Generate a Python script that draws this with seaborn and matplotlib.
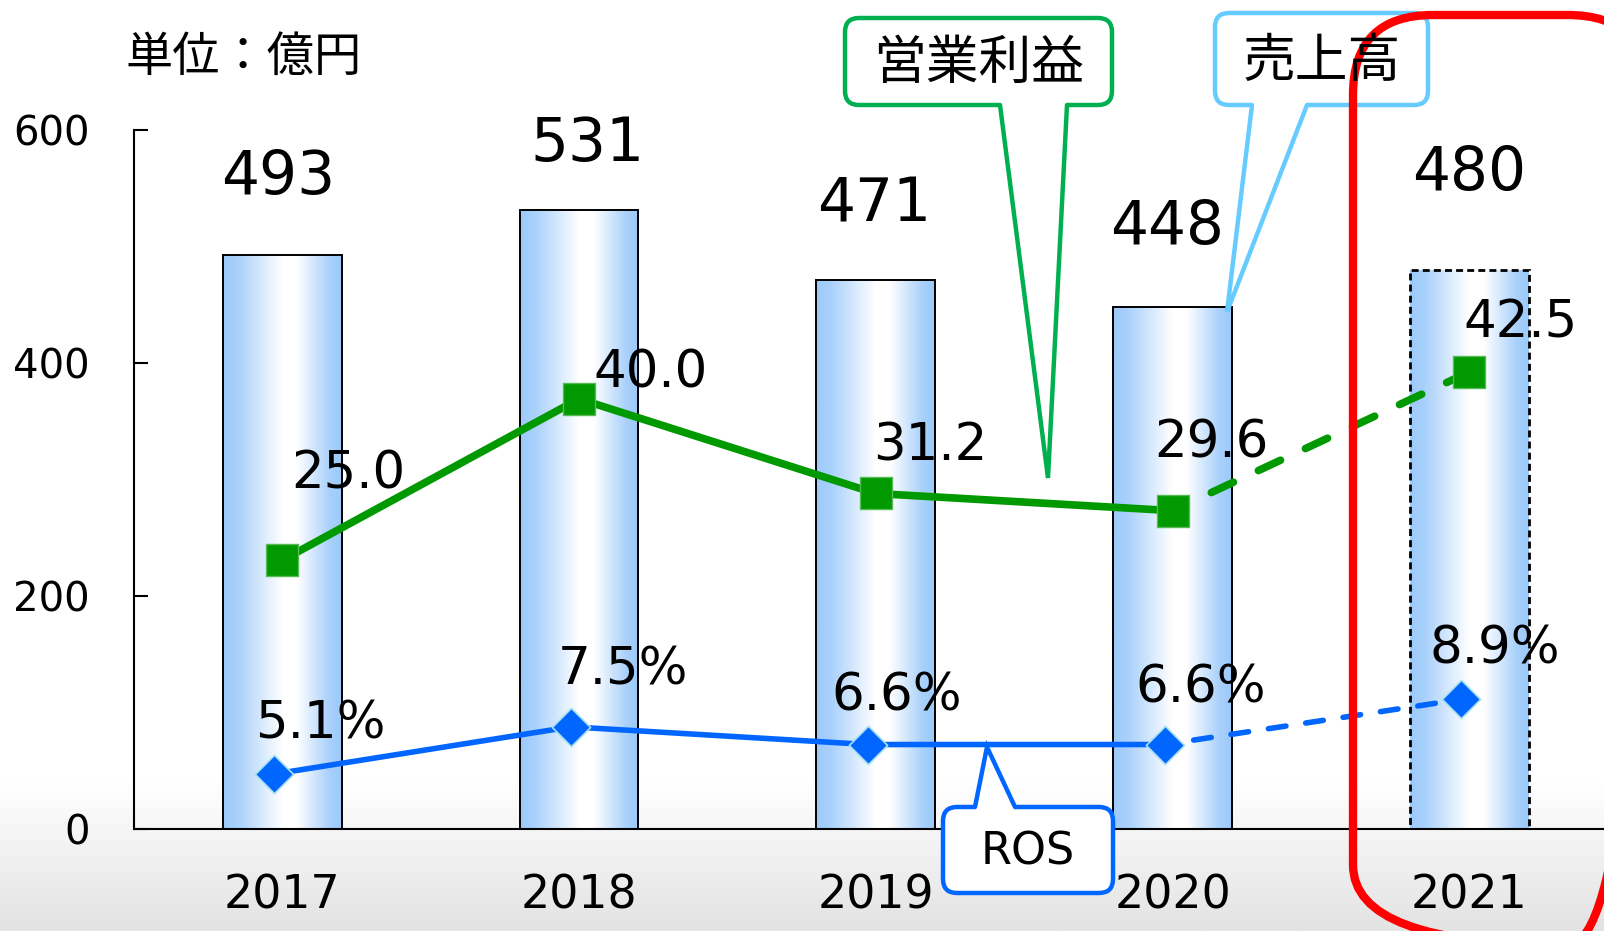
import numpy as np
import pandas as pd
import matplotlib
matplotlib.use('Agg')
import matplotlib.pyplot as plt
import matplotlib.transforms as mtransforms
from matplotlib.patches import FancyBboxPatch, Polygon
from matplotlib.colors import LinearSegmentedColormap
import seaborn as sns

# data
years = ['2017', '2018', '2019', '2020', '2021']
sales = [493, 531, 471, 448, 480]          # 売上高 (億円)
profit = [25.0, 40.0, 31.2, 29.6, 42.5]    # 営業利益 (億円)
ros = [5.1, 7.5, 6.6, 6.6, 8.9]            # ROS (%)
sales_labels = ['493', '531', '471', '448', '480']
profit_labels = ['25.0', '40.0', '31.2', '29.6', '42.5']
ros_labels = ['5.1%', '7.5%', '6.6%', '6.6%', '8.9%']

# label offsets in pixels (dx, dy) from the mark
sales_off = [(-4, 61), (8, 49), (-2, 59), (-5, 63), (0, 80)]
profit_off = [(66, 72), (71, 11), (54, 33), (39, 53), (51, 34)]
ros_off = [(46, 35), (52, 42), (29, 34), (36, 42), (34, 36)]

green = '#009900'
blue = '#0066FF'

sns.set_style('white')
plt.rcParams['font.family'] = ['DejaVu Sans', 'Noto Sans CJK JP']
plt.rcParams['text.color'] = 'black'
plt.rcParams['xtick.color'] = 'black'
plt.rcParams['ytick.color'] = 'black'
plt.rcParams['axes.labelcolor'] = 'black'
jp = ['Noto Sans CJK JP', 'DejaVu Sans']

W, H = 1604, 931
fig = plt.figure(figsize=(W / 100, H / 100), dpi=100)

# background: light grey fade at the bottom
bg = fig.add_axes([0, 0, 1, 1], zorder=0)
bg.set_xlim(0, 1)
bg.set_ylim(0, 1)
bg.axis('off')
fade = LinearSegmentedColormap.from_list('fade', ['#ffffff', '#e3e3e3'])
bg.imshow(np.linspace(1, 0, 100).reshape(-1, 1), cmap=fade, aspect='auto',
          extent=(0, 1, 0, 150 / H), origin='lower')

# main axes (sales)
ax = fig.add_axes([134 / W, 1 - 829 / H, 1 - 134 / W, (829 - 130) / H], zorder=1)
ax.set_facecolor('none')
df = pd.DataFrame({'year': years, 'sales': sales, 'profit': profit, 'ros': ros,
                   'pos': np.arange(len(years))})

sns.barplot(data=df, x='year', y='sales', width=0.4, color='white',
            edgecolor='black', linewidth=1.4, ax=ax, zorder=2)

bar_cmap = LinearSegmentedColormap.from_list(
    'bar', [(0, '#9dcafb'), (0.12, '#a8d0fb'), (0.5, '#ffffff'), (0.62, '#ffffff'),
            (0.9, '#a8d0fb'), (1, '#9ccafa')])
grad = np.linspace(0, 1, 256).reshape(1, -1)
for i, p in enumerate(ax.patches):
    x0, w, h = p.get_x(), p.get_width(), p.get_height()
    p.set_facecolor('none')
    im = ax.imshow(grad, cmap=bar_cmap, aspect='auto',
                   extent=(x0, x0 + w, 0, h), zorder=1.5)
    im.set_clip_path(p)
    if i == len(years) - 1:
        p.set_linewidth(2)
        p.set_linestyle((0, (2.5, 1.5)))

ax.set_xlim(-0.5, 4.454)
ax.set_ylim(0, 600)
ax.set_yticks([0, 200, 400, 600])
ax.set_xlabel('')
ax.set_ylabel('')
for s in ['top', 'right']:
    ax.spines[s].set_visible(False)
for s in ['left', 'bottom']:
    ax.spines[s].set_linewidth(1.5)
    ax.spines[s].set_color('black')
ax.tick_params(axis='y', direction='in', length=10, width=1.5, labelsize=29, pad=32)
ax.tick_params(axis='x', length=0, labelsize=33, pad=32)

for i, lbl in enumerate(sales_labels):
    ax.annotate(lbl, xy=(i, sales[i]), xytext=sales_off[i], textcoords='offset pixels',
                ha='center', va='baseline', fontsize=43, zorder=5)

# operating profit (hidden secondary scale)
ax2 = ax.twinx()
ax2.set_ylim(0, 65.0)
ax2.set_axis_off()
sns.lineplot(x=df['pos'][:4], y=df['profit'][:4], ax=ax2, color=green, linewidth=5.5, zorder=3)
sns.lineplot(x=df['pos'][3:], y=df['profit'][3:], ax=ax2, color=green, linewidth=5.5,
             linestyle=(1.2, (3.2, 3.6)), dash_capstyle='round', zorder=3)
ax2.scatter(df['pos'], df['profit'], marker='s', s=560, color=green,
            edgecolor='#55bb55', linewidth=1, zorder=4)
for i, lbl in enumerate(profit_labels):
    ax2.annotate(lbl, xy=(i, profit[i]), xytext=profit_off[i], textcoords='offset pixels',
                 ha='center', va='baseline', fontsize=37, zorder=5)
ax2.set_ylim(0, 65.0)
ax2.set_xlim(-0.5, 4.454)

# ROS (hidden third scale)
ax3 = ax.twinx()
ax3.set_axis_off()
shift = mtransforms.offset_copy(ax3.transData, fig=fig, x=-8, y=0, units='dots')
sns.lineplot(x=df['pos'][:4], y=df['ros'][:4], ax=ax3, color=blue, linewidth=4,
             transform=shift, zorder=3)
sns.lineplot(x=df['pos'][3:], y=df['ros'][3:], ax=ax3, color=blue, linewidth=4,
             linestyle=(1.5, (3.2, 3.6)), dash_capstyle='round', transform=shift, zorder=3)
ax3.scatter(df['pos'], df['ros'], marker='D', s=380, color=blue,
            edgecolor='#a8e0f0', linewidth=1.2, transform=shift, zorder=4)
for i, lbl in enumerate(ros_labels):
    ax3.annotate(lbl, xy=(i, ros[i]), xytext=(ros_off[i][0] - 8, ros_off[i][1]),
                 textcoords='offset pixels', ha='center', va='baseline',
                 fontsize=37, zorder=5)
ax3.set_ylim(2.30, 37.88)
ax3.set_xlim(-0.5, 4.454)

# overlay in pixel coordinates for callouts and the highlight frame
ov = fig.add_axes([0, 0, 1, 1], zorder=5)
ov.axis('off')
ov.patch.set_visible(False)
ov.set_autoscale_on(False)
ov.set_xlim(0, W)
ov.set_ylim(H, 0)

ov.text(125, 58, '単位：億円', fontsize=34, family=jp, ha='left', va='center')


def callout(x0, y0, x1, y1, bl, br, tip, color, label, fam, fs, top=False):
    box = FancyBboxPatch((x0, y0), x1 - x0, y1 - y0,
                         boxstyle='round,pad=0,rounding_size=14',
                         fc='white', ec=color, lw=3.2, zorder=6)
    ov.add_patch(box)
    yb = y0 if top else y1
    inner = yb + 3 if top else yb - 3
    ov.add_patch(Polygon([(bl, inner), tip, (br, inner)], closed=True,
                         fc='white', ec='none', zorder=7))
    ov.plot([bl, tip[0], br], [yb, tip[1], yb], color=color, lw=3.2,
            solid_joinstyle='miter', zorder=8)
    ov.text((x0 + x1) / 2, (y0 + y1) / 2 + 2, label, family=fam, fontsize=fs,
            ha='center', va='center', zorder=9)


callout(845, 18, 1112, 105, 1000, 1067, (1048, 478), '#00B050', '営業利益', jp, 38)
callout(1215, 13, 1428, 105, 1252, 1307, (1227, 312), '#66CCFF', '売上高', jp, 38)
callout(943, 807, 1113, 893, 975, 1015, (987, 747), blue, 'ROS', ['DejaVu Sans'], 32, top=True)

ov.add_patch(FancyBboxPatch((1353, 15), 295, 930,
                            boxstyle='round,pad=0,rounding_size=80',
                            fc='none', ec='#FF0000', lw=6, zorder=6))

ov.set_xlim(0, W)
ov.set_ylim(H, 0)
fig.savefig('out.png', dpi=100)
